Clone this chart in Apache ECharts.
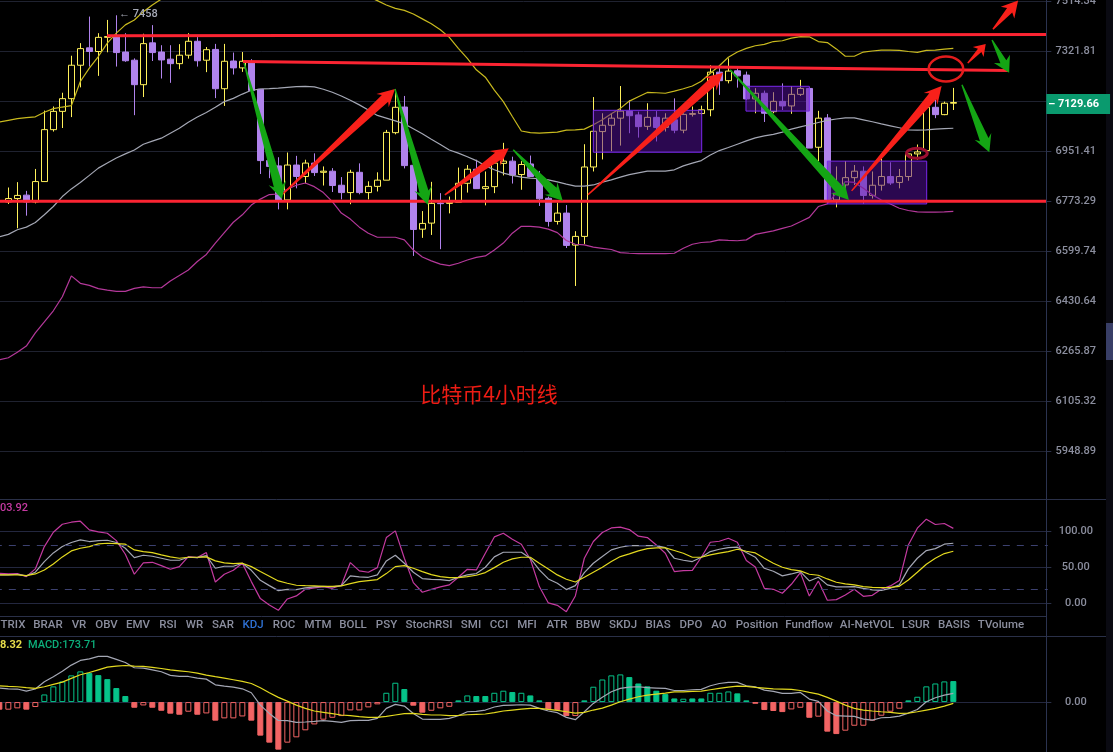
<!DOCTYPE html>
<html>
<head>
<meta charset="utf-8">
<style>html,body{margin:0;padding:0;background:#000}#c{width:1113px;height:752px}</style>
<script src="https://cdn.jsdelivr.net/npm/echarts@6/dist/echarts.min.js"></script>
</head>
<body>
<div id="c"></div>
<script>
// candle values: open, close, low, high
const candles = [
[6771,6783,6764,6822],[6783,6794,6679,6841],[6795,6771,6723,6810],[6771,6843,6766,6888],[6843,7030,6843,7100],
[7030,7097,7023,7115],[7097,7144,7036,7166],[7144,7269,7076,7305],[7269,7332,7186,7353],[7335,7321,7264,7455],
[7321,7375,7229,7391],[7375,7378,7318,7442],[7378,7317,7264,7460],[7319,7286,7282,7391],[7288,7196,7083,7295],
[7196,7351,7150,7389],[7354,7317,7285,7422],[7319,7289,7219,7345],[7292,7275,7203,7345],[7275,7307,7254,7349],
[7307,7360,7294,7391],[7360,7286,7264,7376],[7288,7328,7243,7338],[7329,7181,7146,7350],[7181,7284,7117,7350],
[7285,7259,7234,7317],[7259,7284,7244,7319],[7282,7174,7174,7292],[7179,6918,6870,7179],[6918,6897,6855,6932],
[6899,6778,6745,6930],[6778,6902,6745,6947],[6902,6861,6819,6935],[6861,6909,6837,6921],[6909,6875,6863,6944],
[6876,6880,6829,6897],[6880,6829,6806,6891],[6830,6804,6780,6859],[6804,6876,6763,6885],[6876,6804,6798,6908],
[6804,6826,6780,6844],[6826,6848,6808,6876],[6848,7020,6848,7029],[7019,7112,7013,7179],[7113,6900,6890,7154],
[6901,6675,6584,6901],[6676,6696,6646,6739],[6697,6766,6656,6842],[6767,6765,6607,6802],[6766,6770,6731,6790],
[6770,6837,6770,6893],[6837,6887,6804,6902],[6887,6818,6818,6921],[6818,6825,6759,6879],[6825,6909,6802,6921],
[6908,6916,6865,6982],[6916,6866,6836,6932],[6868,6904,6814,6916],[6906,6861,6861,6936],[6861,6782,6757,6881],
[6784,6703,6685,6790],[6703,6732,6692,6769],[6732,6620,6611,6760],[6621,6651,6482,6669],[6651,6895,6625,6977],
[6895,7024,6879,7150],[7023,7046,6922,7090],[7046,7072,6952,7090],[7072,7098,6972,7191],[7098,7081,7017,7139],
[7084,7041,7001,7096],[7042,7075,7029,7127],[7075,7038,6987,7098],[7038,7072,7023,7090],[7066,7028,7017,7145],
[7028,7086,7017,7090],[7086,7089,7078,7115],[7089,7103,7084,7118],[7103,7243,7079,7269],[7243,7211,7158,7264],
[7211,7247,7201,7295],[7248,7229,7185,7258],[7232,7143,7139,7245],[7143,7164,7090,7183],[7164,7090,7058,7174],
[7096,7134,7090,7168],[7134,7117,7102,7201],[7117,7160,7088,7191],[7160,7182,7154,7214],[7182,6963,6963,7186],
[6966,7072,6916,7099],[7073,6778,6764,7087],[6778,6802,6752,6897],[6831,6857,6790,6916],[6857,6880,6831,6902],
[6880,6794,6764,6897],[6794,6830,6783,6879],[6830,6861,6811,6926],[6861,6838,6831,6912],[6840,6861,6819,6888],
[6861,6942,6846,6942],[6942,6949,6921,6976],[6954,7112,6950,7133],[7112,7085,7072,7141],[7085,7127,7083,7133],
[7127,7129.66,7102,7184]];
// indicator arrays start one bar earlier than the candles (that bar is cut by the left edge)
const bandUpper = [7058,7064,7070,7074,7077,7094,7107,7113,7118,7208,7258,7302,7353,7391,7423,7442,7474,7500,7523,7545,7565,7585,7601,7614,7622,7627,7631,7631,7631,7631,7624,7618,7609,7598,7592,7585,7575,7567,7559,7551,7543,7532,7517,7500,7487,7479,7465,7446,7427,7404,7375,7333,7295,7252,7224,7176,7133,7078,7025,7019,7017,7019,7021,7028,7029,7032,7048,7066,7088,7108,7135,7151,7167,7166,7164,7172,7181,7191,7209,7239,7267,7299,7319,7333,7343,7348,7359,7362,7372,7378,7377,7359,7355,7331,7303,7303,7319,7323,7326,7326,7325,7321,7318,7325,7326,7330,7333];
const bandMid = [6650,6658,6674,6683,6699,6726,6755,6790,6817,6840,6865,6891,6909,6927,6942,6956,6977,6988,6999,7017,7035,7057,7076,7093,7112,7133,7145,7161,7175,7180,7181,7183,7186,7189,7190,7188,7179,7168,7154,7138,7121,7102,7082,7072,7062,7051,7033,7015,6995,6976,6956,6945,6932,6918,6899,6885,6873,6865,6859,6855,6853,6849,6842,6834,6827,6827,6831,6841,6849,6859,6868,6874,6880,6880,6880,6885,6899,6909,6918,6938,6954,6965,6977,6989,7000,7007,7013,7021,7032,7040,7048,7056,7064,7069,7073,7073,7066,7059,7051,7044,7037,7029,7028,7029,7032,7034,7035];
const bandLower = [6238,6245,6263,6283,6326,6362,6399,6446,6516,6491,6484,6473,6468,6464,6464,6474,6479,6476,6476,6499,6517,6536,6565,6589,6628,6664,6700,6726,6760,6781,6797,6799,6816,6830,6838,6825,6804,6772,6732,6711,6683,6662,6648,6648,6648,6639,6604,6580,6567,6556,6551,6559,6570,6579,6584,6604,6628,6662,6686,6686,6683,6676,6664,6637,6624,6622,6614,6610,6606,6595,6593,6592,6592,6592,6592,6593,6610,6624,6630,6632,6639,6637,6636,6639,6658,6664,6670,6679,6687,6702,6717,6755,6764,6802,6843,6840,6819,6796,6778,6764,6749,6741,6736,6735,6735,6736,6738];
const kdjJ = [41.7,40.7,41.2,37,47.7,78.7,98.6,109.7,112.5,113.9,101.9,99.1,97.2,87,68.1,40.3,56,56.9,52.3,47.2,50.9,64.8,63.4,70.4,29.6,40.3,45.8,55.6,30.1,6.5,-2.3,-9.7,6,10.2,19.4,21.3,23.2,20.8,25,56.5,44.9,43.1,49.5,91.2,100.5,62.5,28.7,15.3,19.4,22.7,25.5,36.1,47.2,46.3,69.5,92.1,97.2,88.9,82,61.1,23.2,0.5,-2.8,-11.6,10.2,62.5,85.7,98.2,104.6,105.6,102.3,93.1,91.2,81,69.5,44,45.4,45.8,63.9,84.7,86.1,90.3,84.7,59.3,50.5,20.8,19.4,13.9,26.4,42.6,10.2,31,4.2,5.1,11.6,19.4,9.7,11.1,19.4,24.1,31.5,81,104.2,116.7,109.3,110.7,103.92];
const kdjK = [39.4,39.4,40.3,38,43.1,57.9,69.9,78.7,84.3,88,85.7,87,87.5,84.3,76.4,63.4,66.7,65.3,62.5,59.7,59.7,63.9,63.4,66.2,48.6,51.4,51.4,55.6,45.8,31.9,24.5,17.6,19.4,19,21.3,22.7,23.6,22.7,24.5,38,36.6,36.1,39.4,58.8,66.7,55.6,43.1,34.3,33.3,32.9,31.5,36.1,39.4,41.2,50,64.4,70.8,70.8,70.8,62.5,46.3,33.8,27.8,19,24.5,42.6,55.6,64.8,74.1,77.8,80.1,80.1,80.1,80.1,77.3,62.5,59.7,57.9,63.9,71.8,75,77.3,77.8,70.4,63.9,48.6,44.4,38,40.7,44,31,36.1,25.5,22.7,22.7,23.2,20.8,18.5,18,20.8,25.5,47.7,62.5,73.2,75.9,82,83.3];
const kdjD = [39.4,39.4,39.4,38.4,40.7,46.3,54.6,64.4,72.7,76.4,78.7,82.4,83.3,82.9,82,74.1,71.8,70.4,67.1,64.4,62.5,63.9,63.9,64.4,58.8,56,55.1,55.6,50.9,44,37.5,31,27.8,25,24.5,24.1,23.6,23.6,24.1,27.3,30.1,31.5,32.9,41.2,50.9,52.3,48.6,44,39.8,37,35.7,35.7,37,38.9,42.6,49.5,56.9,61.6,63.9,63.9,55.6,47.7,39.4,33.3,29.6,36.1,43.1,50,57.9,64.8,68.5,72.7,75.9,76.9,76.9,73.2,69.5,63.9,63.9,67.1,69.5,71.8,75,72.2,69.9,62.5,55.6,50,46.8,44.9,40.3,38.9,33.8,29.2,26.9,25.5,23.2,22.2,21.8,22.2,23.6,32.4,43.1,54.2,62.5,69,72.2];
const macdHist = [-63,-63,-52,-63,-41,63,130,171,221,254,240,223,190,116,50,-47,-28,-47,-72,-96,-105,-80,-105,-94,-154,-135,-135,-119,-154,-278,-336,-394,-336,-292,-234,-185,-146,-130,-116,-69,-69,-44,-19,77,160,108,-30,-88,-72,-52,-39,14,55,50,50,77,94,83,77,55,14,-61,-66,-116,-116,14,127,187,221,229,207,154,130,94,66,30,28,30,30,77,77,88,72,14,-14,-66,-74,-83,-61,-47,-130,-121,-245,-265,-237,-196,-196,-154,-113,-80,-55,14,44,130,154,171,173.71];
const macdFilled = [1,0,0,1,0,0,0,0,0,0,1,1,1,1,1,1,0,1,1,1,1,0,1,0,1,0,0,0,1,1,1,1,0,0,0,0,0,0,0,0,0,0,0,0,0,1,1,1,0,0,0,1,0,1,1,0,0,1,0,1,1,1,1,1,0,1,0,0,0,0,1,1,1,1,1,1,0,1,1,0,0,0,1,1,1,1,1,1,0,0,1,0,1,1,0,0,0,0,0,0,0,1,0,0,0,0,1];
const macdDif = [116,110,108,91,108,168,210,256,306,345,358,378,378,353,328,284,281,267,251,221,212,212,198,190,143,132,124,110,77,-25,-94,-152,-154,-168,-165,-160,-154,-160,-168,-154,-152,-152,-135,-52,-19,-33,-94,-141,-143,-143,-135,-113,-80,-77,-66,-41,-28,-25,-22,-25,-52,-74,-88,-127,-146,-80,-11,39,85,113,124,127,119,116,113,96,96,102,105,135,154,163,163,135,127,99,88,72,72,80,25,6,-74,-113,-116,-119,-141,-149,-130,-127,-116,-91,-61,3,36,58,72];
const macdDea = [135,130,127,119,113,127,146,165,196,226,245,267,289,298,303,298,295,287,278,267,259,251,240,223,210,198,185,171,154,119,77,39,8,-25,-52,-74,-85,-96,-107,-113,-121,-127,-127,-119,-107,-96,-94,-102,-107,-107,-113,-110,-105,-102,-99,-88,-74,-66,-58,-52,-52,-61,-69,-80,-91,-85,-66,-50,-25,3,25,44,58,66,74,85,85,88,91,102,113,124,132,130,121,116,110,108,105,96,80,66,39,8,-25,-52,-66,-74,-80,-85,-94,-91,-80,-66,-52,-33,-11];

// y-axis ticks of the price panel ('' = covered by the last-price tag)
const priceTicks = [5948.89,6105.32,6265.87,6430.64,6599.74,6773.29,6951.41,7134,7321.81,7514.34];
const priceTickLabels = ['5948.89','6105.32','6265.87','6430.64','6599.74','6773.29','6951.41','','7321.81','7514.34'];
const lastPrice = 7129.66;
const kdjTicks = [0,50,100];
const kdjDashes = [20,80];
const macdTicks = [0];

// annotations, in [bar index, price] pairs
const hLines = [[10.96,7381,115.3,7386],[26.07,7283,111.07,7249],[-0.93,6773.29,115.3,6773.29]];
const redArrows = [[30.4,6796,42.96,7180],[48.5,6796,55.6,6962],[64.4,6796,79.4,7241],[93.7,6810,103.7,7191],[106.6,7277,108.6,7350],[109.4,7406,112.2,7517]];
const greenArrows = [[26.2,7277,30.4,6781],[42.96,7180,46.6,6761],[56.1,6957,61.6,6775],[80.2,7252,93.4,6778],[109.3,7365,111.2,7241],[105.96,7196,109,6948]];
const boxes = [[65,7101,77.04,6948],[81.96,7190,89,7098],[91,6916,102.04,6764]];
const bigRing = [[102.26,7302,106.1,7208]];
const smallRing = [[99.8,6962,102.1,6926]];

const tabNames = ['TRIX','BRAR','VR','OBV','EMV','RSI','WR','SAR','KDJ','ROC','MTM','BOLL','PSY','StochRSI','SMI','CCI','MFI','ATR','BBW','SKDJ','BIAS','DPO','AO','Position','Fundflow','AI-NetVOL','LSUR','BASIS','TVolume'];
const tabCenters = [13,48,79,106.5,138,168,194.5,223,253,284,318,353,386.5,429,471,499,527,557,588,623,658,691,719,757,809,867,915.7,954,1001];

const FONT = 'Roboto, sans-serif';
const GRID = '#1f2230', SEP = '#2a3048', AXIS_TXT = '#8b8e9e';
const lp = Math.log;
const step = Math.log(7321.81/5948.89)/400;
const cats = Array.from({length:117},(_,i)=>i);
const L = -5.17, W = 1053;

const barAxis = i => ({type:'category',gridIndex:i,data:cats,show:false,boundaryGap:true});
const mkY = (grid,min,max,ticks,fmt) => ({
  type:'value',gridIndex:grid,position:'right',min,max,offset:-1.5,scale:true,
  axisLine:{show:true,onZero:false,lineStyle:{color:'#2b3350'}},
  axisTick:{show:true,length:5,lineStyle:{color:SEP},customValues:ticks},
  splitLine:{show:true,lineStyle:{color:grid==0?GRID:'#23273f',width:1}},
  axisLabel:{show:true,customValues:ticks,formatter:fmt,color:AXIS_TXT,fontFamily:FONT,fontWeight:500,fontSize:11,align:'center',margin:29.5,hideOverlap:false,showMinLabel:true,showMaxLabel:true}
});
const line = (data,color,x,y,extra) => Object.assign({type:'line',data,xAxisIndex:x,yAxisIndex:y,showSymbol:false,symbol:'none',silent:true,lineStyle:{color,width:1.2},z:3},extra||{});

function arrowShape(a,api){
  const p0=api.coord([a[0],a[1]]),p1=api.coord([a[2],a[3]]);
  const dx=p1[0]-p0[0],dy=p1[1]-p0[1],len=Math.hypot(dx,dy),ux=dx/len,uy=dy/len,nx=-uy,ny=ux;
  const hl=Math.min(17,len*.42),hh=Math.min(9,len*.28),nw=Math.min(4.6,len*.09),tw=.7;
  const nk=[p1[0]-ux*hl*.8,p1[1]-uy*hl*.8],br=[p1[0]-ux*hl,p1[1]-uy*hl];
  return [[p0[0]+nx*tw,p0[1]+ny*tw],[nk[0]+nx*nw,nk[1]+ny*nw],[br[0]+nx*hh,br[1]+ny*hh],p1,[br[0]-nx*hh,br[1]-ny*hh],[nk[0]-nx*nw,nk[1]-ny*nw],[p0[0]-nx*tw,p0[1]-ny*tw]];
}
const rows = a => a.map(r=>[r[0],lp(r[1]),r[2],lp(r[3])]);
const ann = (data,z,fn) => ({type:'custom',xAxisIndex:3,yAxisIndex:0,data:rows(data),z,silent:true,clip:false,
  encode:{x:[0,2],y:[1,3]},renderItem:(p,api)=>fn([api.value(0),api.value(1),api.value(2),api.value(3)],api)});

const tabs = tabNames.map((t,i)=>({type:'text',x:tabCenters[i],y:625,style:{text:t,fill:t==='KDJ'?'#2e6fd0':AXIS_TXT,font:'500 11.5px Roboto',align:'center',verticalAlign:'middle'}}));
const hline=(x1,y,x2,c)=>({type:'line',shape:{x1,y1:y,x2,y2:y},style:{stroke:c,lineWidth:1},z:1});
const graphic=[
  {type:'rect',shape:{x:1106,y:0,width:7,height:752},style:{fill:'#0a0a12'},z:0},
  {type:'rect',shape:{x:1106,y:323,width:7,height:37},style:{fill:'#383e66'},z:1},
  hline(0,499.5,1106,SEP),hline(0,616.5,1046,SEP),hline(0,636.5,1106,SEP),
  {type:'line',shape:{x1:1046.5,y1:0,x2:1046.5,y2:752},style:{stroke:'#2b3350',lineWidth:1},z:1},
  {type:'text',x:489,y:394,style:{text:'比特币4小时线',fill:'#ee1c14',font:'21px "Noto Sans CJK SC"',align:'center',verticalAlign:'middle'},z:50},
  {type:'text',x:119,y:14,style:{text:'← 7458',fill:'#a5a8b5',font:'500 11px Roboto',verticalAlign:'middle'},z:50},
  {type:'text',x:0,y:508,style:{text:'03.92',fill:'#c43aa0',font:'500 11px Roboto',verticalAlign:'middle'},z:50},
  {type:'text',x:0,y:645,style:{text:'8.32',fill:'#e6dc4a',font:'bold 11px Roboto',verticalAlign:'middle'},z:50},
  {type:'text',x:28,y:645,style:{text:'MACD:173.71',fill:'#0cae7a',font:'500 11px Roboto',verticalAlign:'middle'},z:50}
].concat(tabs);

const gridBase={left:L,width:W,outerBoundsMode:'none',containLabel:false};
const option={
  animation:false,backgroundColor:'#000',
  grid:[
    Object.assign({top:0,height:499.3},gridBase),
    Object.assign({top:499.3,height:117},gridBase),
    Object.assign({top:636.5,height:115.5},gridBase)
  ],
  xAxis:[barAxis(0),barAxis(1),barAxis(2),{type:'value',gridIndex:0,min:-1.5,max:115.5,show:false}],
  yAxis:[
    mkY(0,lp(5948.89)-48*step,lp(7321.81)+51.3*step,priceTicks.map(lp),v=>{
      let best=0;priceTicks.forEach((t,i)=>{if(Math.abs(lp(t)-v)<Math.abs(lp(priceTicks[best])-v))best=i;});return priceTickLabels[best];}),
    mkY(1,-18.05,144.3,kdjTicks,v=>v.toFixed(2)),
    mkY(2,-413.5,543,macdTicks,v=>v.toFixed(2))
  ],
  graphic,
  series:[
    {type:'candlestick',xAxisIndex:0,yAxisIndex:0,z:2,silent:true,barWidth:6,
     data:[['-','-','-','-']].concat(candles.map(c=>c.map(lp))),
     itemStyle:{color:'#000',color0:'#b083ec',borderColor:'#fff15a',borderColor0:'#b083ec',borderWidth:1},
     markLine:{silent:true,symbol:'none',animation:false,data:[{yAxis:lp(lastPrice)}],lineStyle:{color:'rgba(0,0,0,0)',width:0},
       label:{show:true,position:'end',distance:-1.5,offset:[0,-2.5],formatter:'– '+lastPrice.toFixed(2),color:'#fff',fontFamily:FONT,fontWeight:'bold',fontSize:11,
         backgroundColor:'#0a9a6e',padding:[5,11,5,2],lineHeight:10}}},
    line(bandUpper.map(lp),'#c9ba1e',0,0),
    line(bandMid.map(lp),'#a4a7b4',0,0),
    line(bandLower.map(lp),'#b4389a',0,0),
    ann(boxes,5,(a,api)=>{const p0=api.coord([a[0],a[1]]),p1=api.coord([a[2],a[3]]);
      return {type:'rect',shape:{x:p0[0],y:p0[1],width:p1[0]-p0[0],height:p1[1]-p0[1]},style:{fill:'rgba(85,15,160,0.5)',stroke:'#7a28ec',lineWidth:1}};}),
    ann(hLines,6,(a,api)=>{const p0=api.coord([a[0],a[1]]),p1=api.coord([a[2],a[3]]);
      return {type:'line',shape:{x1:p0[0],y1:p0[1],x2:p1[0],y2:p1[1]},style:{stroke:'#fb2432',lineWidth:3}};}),
    ann(redArrows,7,(a,api)=>({type:'polygon',shape:{points:arrowShape(a,api)},style:{fill:'#f8201a'}})),
    ann(greenArrows,7,(a,api)=>({type:'polygon',shape:{points:arrowShape(a,api)},style:{fill:'#14a514'}})),
    ann(bigRing,8,(a,api)=>{const p0=api.coord([a[0],a[1]]),p1=api.coord([a[2],a[3]]);
      return {type:'ellipse',shape:{cx:(p0[0]+p1[0])/2,cy:(p0[1]+p1[1])/2,rx:(p1[0]-p0[0])/2,ry:(p1[1]-p0[1])/2},style:{fill:'none',stroke:'#e31c1c',lineWidth:2.5}};}),
    ann(smallRing,8,(a,api)=>{const p0=api.coord([a[0],a[1]]),p1=api.coord([a[2],a[3]]);
      return {type:'ellipse',shape:{cx:(p0[0]+p1[0])/2,cy:(p0[1]+p1[1])/2,rx:(p1[0]-p0[0])/2,ry:(p1[1]-p0[1])/2},style:{fill:'none',stroke:'#9c0f30',lineWidth:3}};}),
    line(kdjJ,'#c43aa0',1,1,{markLine:{silent:true,symbol:'none',animation:false,label:{show:false},lineStyle:{color:'#3c4170',type:[7,7],width:1},data:kdjDashes.map(v=>({yAxis:v}))}}),
    line(kdjK,'#a4a7b4',1,1),
    line(kdjD,'#e3d91f',1,1),
    {type:'bar',xAxisIndex:2,yAxisIndex:2,barWidth:6,z:2,silent:true,
     data:macdHist.map((v,i)=>{const c=v>=0?'#06c48a':'#f26464';
       return {value:v,itemStyle:macdFilled[i]?{color:c,borderColor:c,borderWidth:1}:{color:'rgba(0,0,0,0)',borderColor:c,borderWidth:1}};})},
    line(macdDif,'#a4a7b4',2,2),
    line(macdDea,'#e3d91f',2,2)
  ]
};
const chart=echarts.init(document.getElementById('c'),null,{renderer:'canvas'});
chart.setOption(option);
</script>
</body>
</html>
